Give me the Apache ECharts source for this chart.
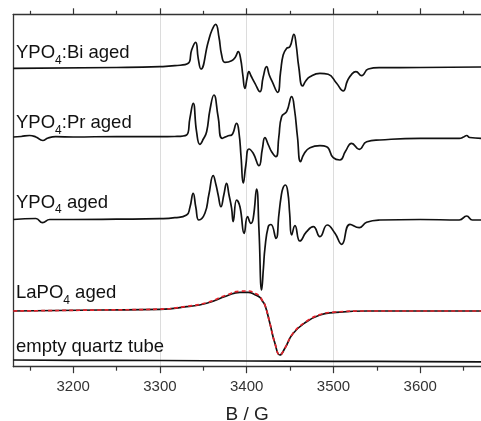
<!DOCTYPE html>
<html><head><meta charset="utf-8">
<script src="https://cdn.jsdelivr.net/npm/echarts@6/dist/echarts.min.js"></script>
<style>html,body{margin:0;padding:0;background:#fff}#c{width:481px;height:421px}</style>
</head><body><div id="c"></div>
<script>
// ---- data (B in gauss, intensity in arbitrary units relative to each baseline) ----
const majorTicks = [3200, 3300, 3400, 3500, 3600];
const minorTicks = [3150, 3250, 3350, 3450, 3550, 3650];

const specBi = [
 [3131,-1.3],[3250,-0.5],[3300,0.3],[3317.2,1.3],[3332.6,3.7],[3336.5,17],[3341.1,24.7],[3344.1,8.7],[3347.2,-2],
 [3355.6,25],[3360,37],[3364.2,42.7],[3368,30],[3371.1,12],[3374.9,4.7],[3382.6,6.3],[3387,10],[3390.2,15.3],
 [3393,8],[3395.5,-8],[3397.9,-21.3],[3400.5,-11],[3402.5,-4.7],[3405,-9],[3409.5,-16.3],[3415.2,-24.7],[3419,-10],
 [3422.9,0.3],[3426,-8],[3429.4,-14.7],[3435.6,-25.3],[3439,-5],[3442,12],[3446,18.7],[3449.8,20.3],[3454.4,32.7],
 [3457,22],[3460,0],[3464.4,-19],[3468,-14],[3472.9,-9.7],[3484.4,-6.3],[3493.9,-7.3],[3503.6,-16.3],[3511.2,-24],
 [3516,-14],[3520.9,-7.3],[3525.9,-4.7],[3532.4,-8.7],[3540.1,-2],[3553.5,-0.7],[3600,-0.5],[3670,0]
];
const specPr = [
 [3131,0],[3140,0.5],[3149.7,1.5],[3157,0],[3165,-3.5],[3171,-1],[3180,0.3],[3200,0],[3250,0.5],[3300,0.3],[3317,0.5],
 [3330.7,2],[3334.5,18.7],[3338.3,33.7],[3342.2,5.3],[3346,-7.3],[3350,-2],[3353.8,5.3],[3357.6,27],[3362.2,42],
 [3367.1,20],[3371.8,-1.3],[3378.7,1.3],[3382.6,2],[3388.4,13.7],[3391,5],[3393.5,-20],[3396,-46],[3399,-28],
 [3402.5,-12],[3407.5,-16.3],[3414.1,-28.7],[3418,-12],[3421,-0.7],[3425,-8],[3428.7,-14.7],[3433.7,-19.7],[3437,0],
 [3440.2,20.3],[3446,25.3],[3451.8,40.3],[3455,28],[3458.5,0],[3462.1,-24.7],[3466,-17],[3472.9,-10.7],[3484.4,-8.7],
 [3492.1,-9.7],[3499.7,-20.7],[3507.4,-23],[3514,-14],[3520.9,-6.3],[3529.7,-12.3],[3538.2,-4.7],[3553.5,-3],
 [3600,-1.3],[3645,-1.3],[3650,0],[3653.5,1.5],[3657,-0.5],[3670,-1.3]
];
const specY = [
 [3131,0],[3157,1],[3164.7,-3.2],[3173,0],[3200,0],[3250,0.3],[3300,0.8],[3317.2,1.8],[3330.7,4.5],[3334.5,12],
 [3338.3,26.2],[3341.4,12],[3344.9,-0.5],[3351.8,6.2],[3356.4,25],[3361.4,43.8],[3364.5,35],[3367.1,24.5],[3370.3,12.8],
 [3373.7,25],[3376.8,36.2],[3379.5,25],[3382.6,11.2],[3384.4,-2.2],[3388.4,19.5],[3392.2,12.8],[3397.1,-13.8],
 [3401,2.8],[3404.8,-3.8],[3407.5,1.2],[3411.4,30.5],[3414.1,-10],[3417.2,-70.5],[3419.3,-48],[3421,-28.8],
 [3424.8,-7.2],[3427.9,-5],[3433.7,-18.8],[3437.1,5],[3439.5,22],[3441.8,31.5],[3444.6,34.5],[3447.4,27],[3449.5,6],
 [3451.8,-15.5],[3455.6,-6.2],[3461.3,-21.5],[3469,-12.2],[3476.7,-7.2],[3484.4,-17.2],[3492.8,-5.5],[3501.7,-13.8],
 [3509.4,-24.8],[3519,-4.8],[3529.7,-8.2],[3538.2,-2.8],[3553.5,-0.5],[3600,0],[3645,-0.5],[3653.5,3.5],[3660,-0.5],[3670,-0.5]
];
const specLa = [
 [3131,0],[3230.8,1],[3300,1.7],[3330.7,4.3],[3353.8,7.7],[3376.8,15],[3392.2,18.7],[3401.7,18.7],[3410,16],
 [3415.2,13.7],[3418,10],[3421,6],[3426.7,-12.3],[3432.5,-32.3],[3438.3,-44],[3444,-37.3],[3453.6,-22.3],
 [3469,-10.7],[3484.4,-4],[3499.7,-1.7],[3538.2,0],[3670,0]
];
const fitLa = [
 [3131,0],[3230.8,1],[3300,1.9],[3330.7,4.6],[3353.8,8.3],[3376.8,16],[3392.2,19.8],[3401.7,20],[3410,17.5],
 [3415.2,14.5],[3418,10.5],[3421,6],[3426.7,-12.3],[3432.5,-32.3],[3438.3,-44],[3444,-37.3],[3453.6,-22],
 [3469,-10.3],[3484.4,-3.6],[3499.7,-1.2],[3538.2,0],[3670,0]
];
const specEmpty = [[3131,1],[3200,0.7],[3300,0.5],[3400,0],[3500,-0.3],[3600,-0.6],[3670,-0.8]];

const offsets = [299.7, 229.7, 147.2, 55.7, 5.7];
const sampleLabels = [
 '{a|YPO}{s|4}{a|:Bi aged}', '{a|YPO}{s|4}{a|:Pr aged}', '{a|YPO}{s|4}{a| aged}', '{a|LaPO}{s|4}{a| aged}', '{a|empty quartz tube}'
];
const labelY = [53.3, 123.3, 202.5, 293.3, 346.5];

// ---- chart ----
const chart = echarts.init(document.getElementById('c'), null, {renderer: 'canvas'});
const shift = (arr, off) => arr.map(p => [p[0], p[1] + off]);
const XMIN = 3131, XMAX = 3670;
const FONT = 'Liberation Sans, Arial, sans-serif';
const gridGeom = {left: 13.3, right: 0, top: 14.3, bottom: 54.3, outerBoundsMode: 'none'};
const axLine = {show: true, lineStyle: {color: '#333', width: 1.3}};

function xAx(gridIndex, position, ticks, len, extra) {
  return Object.assign({
    type: 'value', gridIndex, position, min: XMIN, max: XMAX, splitNumber: 5,
    axisLine: axLine,
    axisTick: {show: true, inside: false, length: len, customValues: ticks, lineStyle: {color: '#333', width: 1.2}},
    axisLabel: {show: false},
    splitLine: {show: false}
  }, extra || {});
}

const lineSeries = (data, off, color, z, dashed) => ({
  type: 'line', xAxisIndex: 0, yAxisIndex: 0, data: shift(data, off),
  showSymbol: false, smooth: 0.5, z,
  lineStyle: {color, width: 1.7, type: dashed ? [4, 3] : 'solid'},
  animation: false, silent: true
});

chart.setOption({
  animation: false,
  backgroundColor: '#fff',
  grid: [Object.assign({}, gridGeom), Object.assign({}, gridGeom)],
  xAxis: [
    xAx(0, 'bottom', majorTicks, 6.5, {
      axisLabel: {show: true, customValues: majorTicks, formatter: v => String(v), fontSize: 15, color: '#333', margin: 13, fontFamily: FONT},
      splitLine: {show: true, showMinLine: false, showMaxLine: false, lineStyle: {color: '#dcdcdc', width: 1}},
      name: 'B / G', nameLocation: 'middle', nameGap: 38.5,
      nameTextStyle: {fontSize: 19, color: '#222', fontFamily: FONT}
    }),
    xAx(0, 'top', majorTicks, 6),
    xAx(1, 'bottom', minorTicks, 4, {axisLine: {show: false}}),
    xAx(1, 'top', minorTicks, 3.5, {axisLine: {show: false}})
  ],
  yAxis: [
    {type: 'value', gridIndex: 0, min: 0, max: 352.4, axisLine: axLine, axisTick: {show: false}, axisLabel: {show: false}, splitLine: {show: false}},
    {type: 'value', gridIndex: 1, min: 0, max: 352.4, show: false}
  ],
  series: [
    lineSeries(specBi, offsets[0], '#111', 3),
    lineSeries(specPr, offsets[1], '#111', 3),
    lineSeries(specY, offsets[2], '#111', 3),
    lineSeries(specLa, offsets[3], '#111', 3),
    lineSeries(fitLa, offsets[3], '#e3222b', 4, true),
    lineSeries(specEmpty, offsets[4], '#111', 3)
  ],
  graphic: sampleLabels.map((t, i) => ({
    type: 'text', x: 16, y: labelY[i], z: 10,
    style: {
      text: t, align: 'left', verticalAlign: 'middle',
      rich: {
        a: {fontSize: 18.5, lineHeight: 26, fill: '#111', fontFamily: FONT},
        s: {fontSize: 12, lineHeight: 12, padding: [14, 0, 0, 0], fill: '#111', fontFamily: FONT}
      }
    }
  }))
});
</script>
</body></html>
